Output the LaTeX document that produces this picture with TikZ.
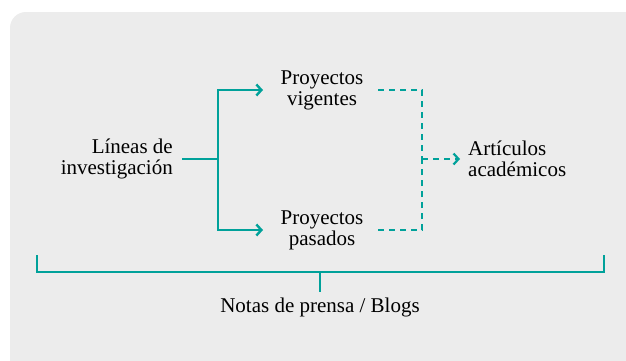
\documentclass[tikz,border=0pt]{standalone}
\usepackage{fontspec}
\setmainfont{Liberation Serif}
\usetikzlibrary{arrows.meta}
\definecolor{teal1}{RGB}{0,161,154}
\definecolor{panel}{RGB}{236,236,236}

\begin{document}
\begin{tikzpicture}[
    x=1pt, y=-1pt,
    t/.style ={
        font=\fontsize{21}{21}\selectfont,
        inner sep=0pt,
        align=center
    },
    link/.style ={
        teal1,
        line width=2.4pt
    },
    dlink/.style ={
        teal1,
        line width=2.2pt,
        dash pattern=on 6pt off 5pt
    }
    ]
    \useasboundingbox (0,0) rectangle (626,360);
    \fill[white] (0,0) rectangle (626,360);
    \fill[panel, rounded corners=16pt] (10,12) rectangle (640,376);

    \node[t, align=right, anchor=east] (lin) at (173,159) {Líneas de\\investigación};
    \node[t, align=left, anchor=west] (art) at (468,159) {Artículos\\académicos};
    \foreach \x/ \pos/ \txt in {{vig/(322,90)/Proyectos\\vigentes}, {pas/(322,230)/Proyectos\\pasados}}
        \node[t] (\x) at \pos {\txt};
    \node[t] (not) at (320,307) {Notas de prensa / Blogs};

    \coordinate (fork) at (218,159);
    \coordinate (join) at (422,159);
    \coordinate (tick) at (320,292);
    \draw[link] (lin.east -| 182,0) -- (fork);
    \foreach \dst in {vig, pas}
        \draw[link, -{Straight Barb[length=5pt,width=11pt]}] (fork) |- (\dst.west -| 263,0);
    \foreach \src in {vig, pas}
        \draw[dlink] (\src.east -| 378,0) -| (join);
    \draw[dlink, -{Straight Barb[length=5pt,width=11pt]}] (join) -- ([xshift=-8pt]art.west);

    \draw[link] (37,255) |- (604,272) -- (604,255);
    \draw[link] (320,272) -- (tick);

\end{tikzpicture}
\end{document}
